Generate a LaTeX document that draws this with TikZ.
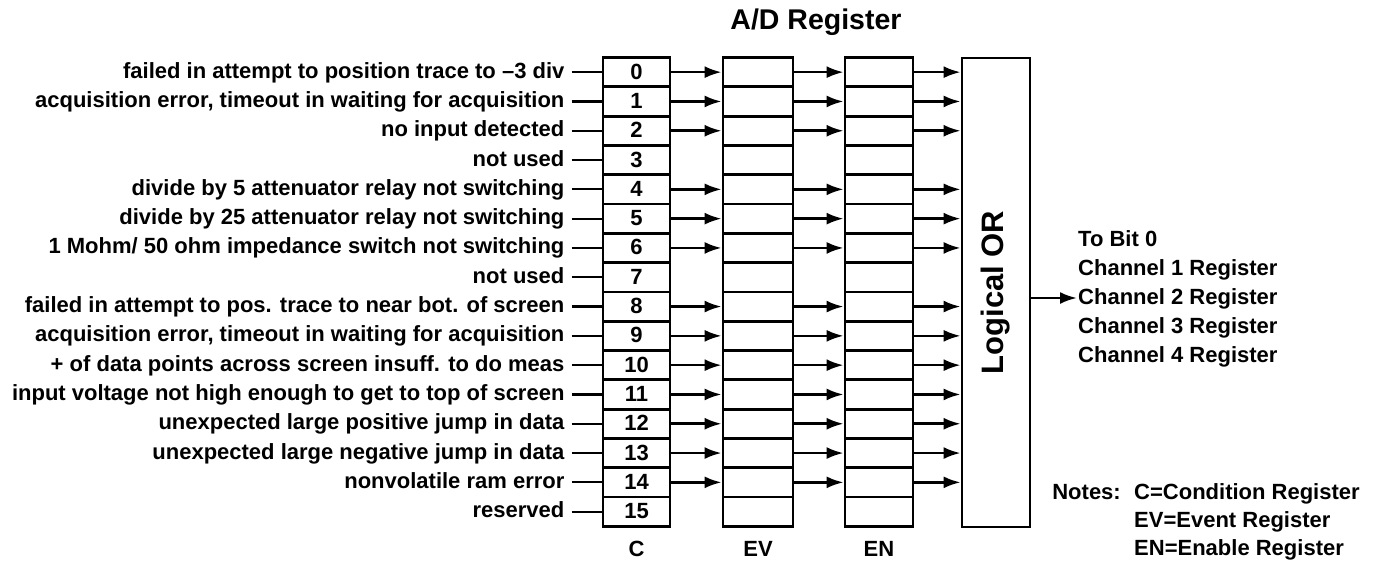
\documentclass[tikz,border=0pt]{standalone}
\usepackage{fontspec}
\setmainfont{Liberation Sans}
\usetikzlibrary{arrows.meta}
\begin{document}
\begin{tikzpicture}[x=1pt,y=-1pt,
  txt/.style={font=\fontsize{22}{24}\selectfont\bfseries,inner sep=1pt,text height=16pt,text depth=4pt},
  cell/.style={draw,line width=2.8pt,minimum height=29.3pt,inner sep=0pt,font=\fontsize{22}{24}\selectfont\bfseries,text height=16pt,text depth=2pt},
  ccell/.style={cell,minimum width=67pt},
  evcell/.style={cell,minimum width=70pt},
  encell/.style={cell,minimum width=68pt},
  arr/.style={line width=2.6pt,-{Latex[length=17pt,width=12pt]}},
  tick/.style={line width=2.2pt}]
\useasboundingbox (0,0) rectangle (1384,568);
\node[txt,font=\fontsize{28.5}{31}\selectfont\bfseries,text height=21pt,text depth=6pt] (title) at (816,22) {A/D Register};
\foreach \i in {0,...,15}{
  \pgfmathsetmacro\yy{57.5+29.3*(\i+0.5)}
  \node[ccell] (c\i) at (636.5,\yy) {\i};
  \node[evcell] (ev\i) at (758,\yy) {};
  \node[encell] (en\i) at (879,\yy) {};
}
\node[draw,line width=2.8pt,minimum width=68pt,minimum height=469pt,inner sep=0pt] (or) at (996,292.5) {};
\node[rotate=90,font=\fontsize{31}{34}\selectfont\bfseries] (ortext) at (or.center) {Logical OR};
\foreach \i/\t in {0/{failed in attempt to position trace to –3 div},
  1/{acquisition error, timeout in waiting for acquisition},
  2/{no input detected},
  3/{not used},
  4/{divide by 5 attenuator relay not switching},
  5/{divide by 25 attenuator relay not switching},
  6/{1 Mohm/ 50 ohm impedance switch not switching},
  7/{not used},
  8/{failed in attempt to pos. trace to near bot. of screen},
  9/{acquisition error, timeout in waiting for acquisition},
  10/{+ of data points across screen insuff. to do meas},
  11/{input voltage not high enough to get to top of screen},
  12/{unexpected large positive jump in data},
  13/{unexpected large negative jump in data},
  14/{nonvolatile ram error},
  15/{reserved}}{
  \node[txt,anchor=east] (lab\i) at ([xshift=-36pt]c\i.west) {\t};
  \draw[tick] ([xshift=6pt]lab\i.east) -- (c\i.west);
}
\foreach \i in {0,1,2,4,5,6,8,9,10,11,12,13,14}{
  \draw[arr] (c\i.east) -- (ev\i.west);
  \draw[arr] (ev\i.east) -- (en\i.west);
  \draw[arr] (en\i.east) -- (en\i.east -| or.west);
}
\node[txt] (lc) at (636.5,550) {C};
\node[txt] (lev) at (758,550) {EV};
\node[txt] (len) at (879,550) {EN};
\node[txt,anchor=west] (tobit) at (1077,240) {To Bit 0};
\node[txt,anchor=west] (ch1) at (1077,269) {Channel 1 Register};
\node[txt,anchor=west] (ch2) at (1077,298) {Channel 2 Register};
\node[txt,anchor=west] (ch3) at (1077,327) {Channel 3 Register};
\node[txt,anchor=west] (ch4) at (1077,356) {Channel 4 Register};
\draw[arr] (or.east |- ch2.west) -- (ch2.west);
\node[txt,anchor=east] (notes) at (1122,493) {Notes:};
\node[txt,anchor=west] (n1) at (1133,493) {C=Condition Register};
\node[txt,anchor=west] (n2) at (1133,521) {EV=Event Register};
\node[txt,anchor=west] (n3) at (1133,549) {EN=Enable Register};
\end{tikzpicture}
\end{document}
